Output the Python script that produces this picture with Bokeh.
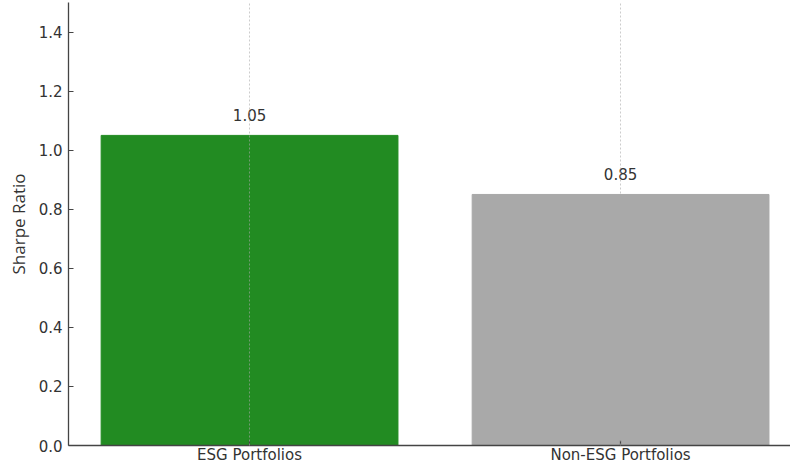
from bokeh.plotting import figure
from bokeh.models import ColumnDataSource, FixedTicker, Range1d, CustomJSTickFormatter
from bokeh.embed import file_html
from bokeh.resources import INLINE

# Sharpe ratios by portfolio type
categories = ["ESG Portfolios", "Non-ESG Portfolios"]
sharpe = [1.05, 0.85]
bar_colors = ["#228B22", "#A9A9A9"]
y_ticks = [0.0, 0.2, 0.4, 0.6, 0.8, 1.0, 1.2, 1.4]

xpos = list(range(len(categories)))
src = ColumnDataSource(dict(
    x=xpos,
    top=sharpe,
    color=bar_colors,
    label_y=[v + 0.05 for v in sharpe],
    label=[f"{v:.2f}" for v in sharpe],
))

p = figure(
    width=790, height=466,
    x_range=Range1d(-0.488, 1.458),
    y_range=Range1d(0, 1.5),
    output_backend="svg",
    toolbar_location=None,
    min_border_left=68, min_border_right=0,
    min_border_top=2, min_border_bottom=0,
)
p.outline_line_color = None
p.background_fill_color = "white"
p.border_fill_color = "white"

p.vbar(x="x", top="top", width=0.8, bottom=0, color="color", source=src)

p.text(x="x", y="label_y", text="label", source=src,
       text_align="center", text_baseline="bottom",
       text_font_size="15px", text_color="#333333",
       text_font={"value": "DejaVu Sans"})

# x axis: category labels at bar centres
p.xaxis.ticker = FixedTicker(ticks=xpos)
p.xaxis.major_label_overrides = {i: c for i, c in enumerate(categories)}
p.xaxis.minor_tick_line_color = None
p.xaxis.major_label_standoff = 0

p.yaxis.ticker = FixedTicker(ticks=y_ticks)
p.yaxis.formatter = CustomJSTickFormatter(code="return tick.toFixed(1);")
p.yaxis.minor_tick_line_color = None
p.yaxis.major_label_standoff = 6
p.yaxis.axis_label = "Sharpe Ratio"
p.yaxis.axis_label_text_font = "Open Sans"
p.yaxis.axis_label_text_font_style = "normal"
p.yaxis.axis_label_text_font_size = "17px"
p.yaxis.axis_label_text_color = "#333333"
p.yaxis.axis_label_standoff = 6

for ax in (p.xaxis, p.yaxis):
    ax.axis_line_color = "#444444"
    ax.axis_line_width = 1.3
    ax.major_tick_line_color = "#444444"
    ax.major_tick_line_width = 1.2
    ax.major_tick_out = 0
    ax.major_tick_in = 5
    ax.major_label_text_font = "DejaVu Sans"
    ax.major_label_text_font_size = "15px"
    ax.major_label_text_color = "#333333"

# dotted vertical guides through the bar centres, drawn over the bars
p.ygrid.grid_line_color = None
p.xgrid.grid_line_color = "#aaaaaa"
p.xgrid.grid_line_alpha = 0.6
p.xgrid.grid_line_dash = "2 2"
p.xgrid.grid_line_width = 1
p.xgrid.level = "overlay"

open("out.html", "w").write(file_html(p, INLINE))
